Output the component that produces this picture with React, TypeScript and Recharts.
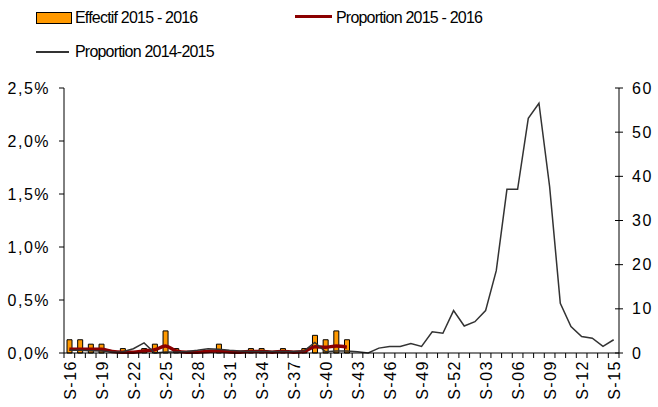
import React from 'react'
import { ComposedChart, Bar, Line, XAxis, YAxis } from 'recharts'

// week labels, S-16 of 2015 through S-15 of 2016
const weeks = [
  'S-16', 'S-17', 'S-18', 'S-19', 'S-20', 'S-21', 'S-22', 'S-23', 'S-24', 'S-25',
  'S-26', 'S-27', 'S-28', 'S-29', 'S-30', 'S-31', 'S-32', 'S-33', 'S-34', 'S-35',
  'S-36', 'S-37', 'S-38', 'S-39', 'S-40', 'S-41', 'S-42', 'S-43', 'S-44', 'S-45',
  'S-46', 'S-47', 'S-48', 'S-49', 'S-50', 'S-51', 'S-52', 'S-01', 'S-02', 'S-03',
  'S-04', 'S-05', 'S-06', 'S-07', 'S-08', 'S-09', 'S-10', 'S-11', 'S-12', 'S-13',
  'S-14', 'S-15',
]

// counts 2015-2016 (right axis)
const effectif1516 = [
  3, 3, 2, 2, null, 1, null, 1, 2, 5,
  1, null, null, null, 2, null, null, 1, 1, null,
  1, null, 1, 4, 3, 5, 3,
]

// proportion 2015-2016, in % (left axis)
const proportion1516 = [
  0.035, 0.035, 0.035, 0.035, 0.015, 0.008, 0.008, 0.02, 0.03, 0.065,
  0.02, 0.008, 0.008, 0.015, 0.02, 0.01, 0.008, 0.015, 0.015, 0.008,
  0.015, 0.008, 0.015, 0.06, 0.055, 0.065, 0.055,
]

// proportion 2014-2015, in % (left axis)
const proportion1415 = [
  0.025, 0.025, 0.022, 0.02, 0.01, 0.012, 0.04, 0.095, 0, 0.01,
  0.01, 0.015, 0.025, 0.04, 0.035, 0.025, 0.02, 0.015, 0.015, 0.015,
  0.015, 0.015, 0.02, 0.1, 0.012, 0.02, 0.02, 0.012, 0, 0.046,
  0.062, 0.062, 0.09, 0.062, 0.2, 0.186, 0.4, 0.255, 0.295, 0.4,
  0.777, 1.544, 1.544, 2.214, 2.356, 1.57, 0.469, 0.25, 0.156, 0.14,
  0.062, 0.125,
]

const leftTicks = [0, 0.5, 1, 1.5, 2, 2.5]
const rightTicks = [0, 10, 20, 30, 40, 50, 60]

const data = weeks.map((w, i) => ({
  week: w,
  effectif: effectif1516[i] ?? null,
  p1516: proportion1516[i] ?? null,
  p1415: proportion1415[i],
}))

const FONT = "Arial, 'Liberation Sans', sans-serif"
const W = 658
const H = 407
const PLOT_LEFT = 64
const PLOT_RIGHT = 619
const bw = (PLOT_RIGHT - PLOT_LEFT) / weeks.length

const WeekTick = (props: any) => {
  const { x, y, payload, index } = props
  return (
    <g>
      <line x1={x - bw / 2} x2={x - bw / 2} y1={y} y2={y + 5} stroke="#000" />
      {index === weeks.length - 1 && <line x1={x + bw / 2} x2={x + bw / 2} y1={y} y2={y + 5} stroke="#000" />}
      {index % 3 === 0 && (
        <text
          transform={`translate(${x + 1},${y + 7}) rotate(-90)`}
          textAnchor="end"
          dominantBaseline="central"
          fontSize={16}
          letterSpacing={1.5}
          fontFamily={FONT}
          fill="#000"
        >
          {payload.value}
        </text>
      )}
    </g>
  )
}

const RightTick = (props: any) => {
  const { x, y, payload } = props
  return (
    <g>
      <line x1={x - 4} x2={x + 4} y1={y} y2={y} stroke="#000" />
      <text x={x + 13} y={y} dominantBaseline="central" fontSize={16} letterSpacing={1.5} fontFamily={FONT} fill="#000">
        {payload.value}
      </text>
    </g>
  )
}

function ChartLegend() {
  const txt: React.CSSProperties = { position: 'absolute', fontSize: 16, letterSpacing: -0.8, fontFamily: FONT, whiteSpace: 'nowrap', lineHeight: '18px' }
  return (
    <div style={{ position: 'absolute', left: 0, top: 0, width: W, height: 70 }}>
      <div style={{ position: 'absolute', left: 36, top: 12, width: 34, height: 10, background: '#FF9900', border: '1px solid #000' }} />
      <div style={{ ...txt, left: 75, top: 9 }}>Effectif 2015 - 2016</div>
      <div style={{ position: 'absolute', left: 295, top: 15, width: 37, height: 3, background: '#8B0000' }} />
      <div style={{ ...txt, left: 336, top: 9 }}>Proportion 2015 - 2016</div>
      <div style={{ position: 'absolute', left: 36, top: 51, width: 33, height: 1.5, background: '#333' }} />
      <div style={{ ...txt, left: 75, top: 43 }}>Proportion 2014-2015</div>
    </div>
  )
}

export default function App() {
  return (
    <div style={{ position: 'absolute', left: 0, top: 0, width: W, height: H, background: '#fff' }}>
      <ComposedChart width={W} height={H} data={data} margin={{ top: 88, right: 0, bottom: 0, left: 0 }}>
        <XAxis
          dataKey="week"
          height={54}
          interval={0}
          tickLine={false}
          tickSize={0}
          tickMargin={0}
          axisLine={{ stroke: '#000' }}
          tick={<WeekTick />}
        />
        <YAxis
          yAxisId="left"
          orientation="left"
          width={PLOT_LEFT}
          domain={[0, 2.5]}
          ticks={leftTicks}
          interval={0}
          tickSize={5}
          tickMargin={9}
          axisLine={{ stroke: '#000' }}
          tickLine={{ stroke: '#000' }}
          tick={{ fill: '#000', fontSize: 16, fontFamily: FONT, letterSpacing: 1.5 }}
          tickFormatter={(v: number) => v.toFixed(1).replace('.', ',') + '%'}
        />
        <YAxis
          yAxisId="right"
          orientation="right"
          width={W - PLOT_RIGHT}
          domain={[0, 60]}
          ticks={rightTicks}
          interval={0}
          tickSize={0}
          tickMargin={0}
          tickLine={false}
          axisLine={{ stroke: '#000' }}
          tick={<RightTick />}
        />
        <Bar yAxisId="right" dataKey="effectif" barSize={5} fill="#FF9900" stroke="#000" strokeWidth={1} isAnimationActive={false} />
        <Line yAxisId="left" type="monotone" dataKey="p1516" stroke="#8B0000" strokeWidth={3.5} dot={false} isAnimationActive={false} />
        <Line yAxisId="left" type="linear" dataKey="p1415" stroke="#333" strokeWidth={1.5} dot={false} isAnimationActive={false} />
      </ComposedChart>
      <ChartLegend />
    </div>
  )
}
